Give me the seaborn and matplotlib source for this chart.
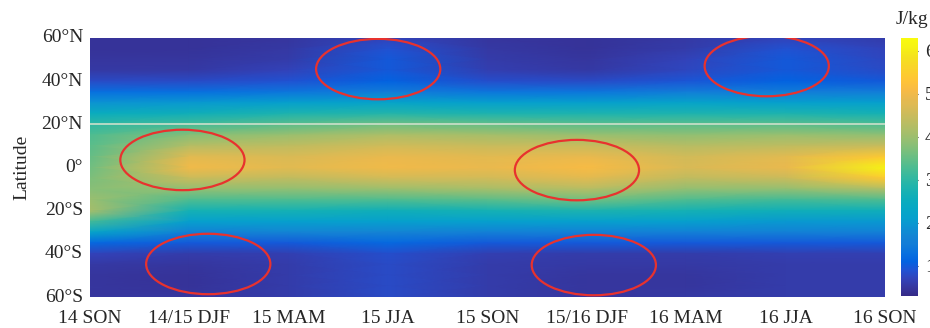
import numpy as np
import pandas as pd
import matplotlib
matplotlib.use("Agg")
import matplotlib.pyplot as plt
from matplotlib.colors import LinearSegmentedColormap
from matplotlib.patches import Ellipse
import seaborn as sns

# ---------------- data ----------------
latitudes = [60, 55, 50, 45, 40, 35, 30, 25, 20, 15, 10, 5, 0,
             -5, -10, -15, -20, -25, -30, -35, -40, -45, -50, -55, -60]
seasons = ["14 SON", "14/15 DJF", "15 MAM", "15 JJA", "15 SON",
           "15/16 DJF", "16 MAM", "16 JJA", "16 SON"]

son_14 = [0.45, 0.45, 0.5, 0.55, 0.8, 1.3, 1.9, 2.5, 3.0, 3.3, 3.4, 3.5, 3.6,
          3.7, 3.8, 4.0, 4.1, 3.2, 2.2, 1.2, 0.7, 0.55, 0.5, 0.5, 0.5]
djf_1415 = [0.45, 0.45, 0.5, 0.55, 0.8, 1.3, 2.0, 2.6, 3.2, 3.8, 4.3, 4.8, 5.0,
            4.5, 3.9, 3.3, 2.7, 2.1, 1.6, 1.0, 0.6, 0.5, 0.45, 0.45, 0.5]
mam_15 = [0.5, 0.55, 0.6, 0.7, 0.9, 1.4, 2.1, 2.8, 3.4, 4.0, 4.4, 4.7, 4.8,
          4.4, 3.9, 3.3, 2.7, 2.1, 1.7, 1.0, 0.65, 0.6, 0.6, 0.6, 0.6]
jja_15 = [0.7, 0.9, 1.0, 1.0, 1.1, 1.5, 2.2, 2.9, 3.6, 4.2, 4.6, 4.9, 5.0,
          4.6, 4.0, 3.3, 2.6, 2.1, 1.7, 1.2, 0.85, 0.8, 0.8, 0.8, 0.8]
son_15 = [0.5, 0.55, 0.6, 0.65, 0.85, 1.4, 2.1, 2.8, 3.5, 4.1, 4.5, 4.8, 4.9,
          4.6, 4.1, 3.4, 2.7, 2.1, 1.6, 1.0, 0.65, 0.6, 0.6, 0.6, 0.6]
djf_1516 = [0.45, 0.45, 0.5, 0.55, 0.8, 1.4, 2.1, 2.8, 3.4, 4.0, 4.5, 4.9, 5.1,
            4.8, 4.3, 3.6, 2.8, 2.1, 1.6, 1.0, 0.6, 0.55, 0.5, 0.5, 0.5]
mam_16 = [0.55, 0.6, 0.7, 0.75, 0.95, 1.5, 2.2, 2.8, 3.4, 3.9, 4.3, 4.6, 4.7,
          4.4, 3.9, 3.3, 2.7, 2.1, 1.6, 1.0, 0.6, 0.55, 0.5, 0.5, 0.55]
jja_16 = [0.7, 0.9, 1.0, 1.0, 1.1, 1.5, 2.1, 2.8, 3.4, 4.0, 4.4, 4.8, 4.9,
          4.5, 3.9, 3.2, 2.6, 2.0, 1.6, 1.0, 0.65, 0.6, 0.6, 0.6, 0.6]
son_16 = [0.6, 0.7, 0.75, 0.8, 1.0, 1.5, 2.1, 2.7, 3.3, 3.9, 4.5, 5.4, 6.1,
          5.4, 4.2, 3.3, 2.6, 2.0, 1.6, 1.0, 0.65, 0.6, 0.6, 0.6, 0.6]

lat_ticks = [60, 40, 20, 0, -20, -40, -60]
lat_tick_labels = ["60°N", "40°N", "20°N", "0°", "20°S", "40°S", "60°S"]
cbar_ticks = [1, 2, 3, 4, 5, 6]

# highlighted regions: (season index, latitude)
ellipse_centers = [(0.93, 3.5), (1.19, -44.7), (2.90, 45.6),
                   (4.90, -1.2), (5.07, -45.2), (6.81, 47.0)]

# ---------------- style ----------------
sns.set_theme(style="white")
plt.rcParams["font.family"] = ["Liberation Serif", "DejaVu Serif"]
plt.rcParams["font.size"] = 14

parula_pts = [
    [0.2081, 0.1663, 0.5292], [0.2123, 0.2138, 0.6270], [0.1959, 0.2645, 0.7279],
    [0.1253, 0.3242, 0.8303], [0.0117, 0.3875, 0.8820], [0.0329, 0.4430, 0.8720],
    [0.0723, 0.4887, 0.8467], [0.0793, 0.5200, 0.8312], [0.0488, 0.5772, 0.8228],
    [0.0239, 0.6287, 0.8038], [0.0228, 0.6535, 0.7768], [0.0384, 0.6743, 0.7436],
    [0.0843, 0.6928, 0.7062], [0.1453, 0.7098, 0.6646], [0.2178, 0.7250, 0.6193],
    [0.3022, 0.7376, 0.5712], [0.3953, 0.7459, 0.5244], [0.4871, 0.7491, 0.4840],
    [0.5709, 0.7485, 0.4494], [0.6473, 0.7456, 0.4188], [0.7184, 0.7411, 0.3905],
    [0.7858, 0.7356, 0.3633], [0.8507, 0.7299, 0.3360], [0.9139, 0.7258, 0.3063],
    [0.9739, 0.7314, 0.2666], [0.9990, 0.7653, 0.2164], [0.9880, 0.8066, 0.1794],
    [0.9697, 0.8481, 0.1475], [0.9589, 0.8949, 0.1132], [0.9661, 0.9514, 0.0755],
    [0.9763, 0.9831, 0.0538]]
parula = LinearSegmentedColormap.from_list("parula", parula_pts, N=256)

df = pd.DataFrame(
    np.column_stack([son_14, djf_1415, mam_15, jja_15, son_15,
                     djf_1516, mam_16, jja_16, son_16]),
    index=latitudes, columns=seasons)

fig = plt.figure(figsize=(9.30, 3.28), dpi=100)
ax = fig.add_axes([90 / 930, 1 - 297 / 328, 795 / 930, 259 / 328])
cax = fig.add_axes([901 / 930, 1 - 296 / 328, 17 / 930, 258 / 328])

sns.heatmap(df, ax=ax, cbar_ax=cax, cmap=parula, vmin=0.3, vmax=6.3,
            shading="gouraud", rasterized=True)

nrow, ncol = df.shape
ax.set_xlim(0, ncol - 1)
ax.set_ylim(nrow - 1, 0)


def lat_to_y(lat):
    return (latitudes[0] - lat) / (latitudes[0] - latitudes[1])


ax.set_xticks(range(ncol))
ax.set_xticklabels(seasons, rotation=0, fontsize=14)
ax.set_yticks([lat_to_y(l) for l in lat_ticks])
ax.set_yticklabels(lat_tick_labels, rotation=0, fontsize=14)
ax.tick_params(axis="both", length=0)
ax.tick_params(axis="x", pad=9.5)
ax.tick_params(axis="y", pad=5)
ax.set_xlabel("")
ax.set_ylabel("Latitude", fontsize=14, labelpad=8)

# 20N reference line
ax.axhline(lat_to_y(20), color="#cfe0cc", lw=1.3, alpha=0.9)

# highlight ellipses
step = latitudes[0] - latitudes[1]
for sx, lat in ellipse_centers:
    ax.add_patch(Ellipse((sx, lat_to_y(lat)), width=1.25, height=28 / step,
                         fill=False, edgecolor="#e8322e", lw=1.6))

cax.set_yticks(cbar_ticks)
cax.tick_params(axis="y", length=3, width=0.8, labelsize=14, pad=5,
                direction="in")
for s in cax.spines.values():
    s.set_visible(False)
fig.text(912 / 930, 1 - 19 / 328, "J/kg", ha="center", va="center",
         fontsize=14)

fig.savefig("out.png", dpi=100)
